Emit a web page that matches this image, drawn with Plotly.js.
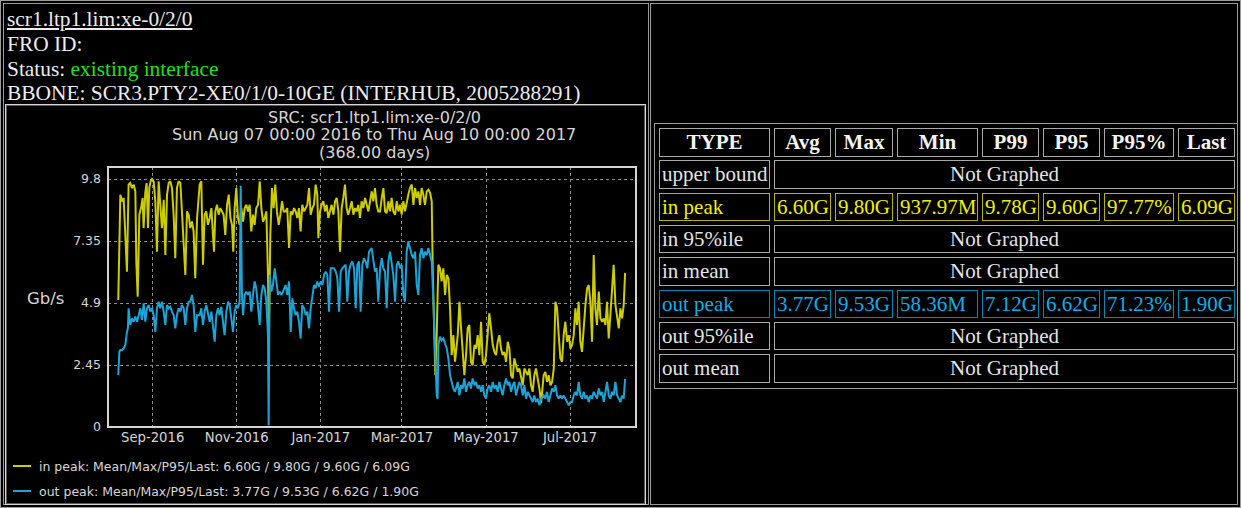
<!DOCTYPE html>
<html>
<head>
<meta charset="utf-8">
<script src="https://cdn.plot.ly/plotly-3.0.1.min.js"></script>
<style>
  html, body { margin:0; padding:0; background:#000; }
  body { width:1241px; height:508px; position:relative; overflow:hidden; }
  .box { position:absolute; box-sizing:border-box; }
  .hdr { position:absolute; left:7px; font-family:'Liberation Serif','Times New Roman',serif; font-size:21.4px; line-height:25px; color:#ececec; white-space:nowrap; }
  .cell { position:absolute; box-sizing:border-box; border:1px solid #a8a8a8; font-family:'Liberation Serif','Times New Roman',serif; font-size:21px; color:#e4e4e4; white-space:nowrap; overflow:hidden; padding-left:2px; }
  #chart { position:absolute; left:0; top:0; width:650px; height:508px; }
</style>
</head>
<body>
<div class="box" style="left:0;top:0;width:1241px;height:508px;border:1px solid #9a9a9a;"></div>
<div class="box" style="left:3px;top:3px;width:646px;height:502px;border:1px solid #9a9a9a;"></div>
<div class="box" style="left:650px;top:3px;width:588px;height:502px;border:1px solid #9a9a9a;"></div>
<div class="box" style="left:5px;top:104px;width:641px;height:401px;border:1px solid #d6d6d6;box-shadow:inset 0 0 0 1px #5a5a5a;"></div>

<div class="hdr" style="top:7px;"><span style="text-decoration:underline;">scr1.ltp1.lim:xe-0/2/0</span></div>
<div class="hdr" style="top:32px;">FRO ID:</div>
<div class="hdr" style="top:57px;">Status: <span style="color:#1ee01e;">existing interface</span></div>
<div class="hdr" style="top:81px;">BBONE: SCR3.PTY2-XE0/1/0-10GE (INTERHUB, 2005288291)</div>

<div class="box" style="left:654px;top:123px;width:584px;height:266px;border:1px solid #9a9a9a;"></div>
<div id="tbl"></div>
<div id="chart"></div>

<script>
// ---------------- DATA ----------------
const startDate = '2016-08-07';
const monthTickDates = ['2016-09-01','2016-11-01','2017-01-01','2017-03-01','2017-05-01','2017-07-01'];
const monthTickLabels = ['Sep-2016','Nov-2016','Jan-2017','Mar-2017','May-2017','Jul-2017'];
const yTickValues = [0, 2.45, 4.9, 7.35, 9.8];
const yTickLabels = ['0','2.45','4.9','7.35','9.8'];

// day offsets from startDate, values in Gb/s
const inDays = [0,1.5,2.7,3.9,5.1,6.3,7.5,8.7,10.0,11.2,12.4,13.1,14.1,15.3,16.5,17.7,18.4,19.6,20.6,21.6,22.5,23.5,24.5,25.7,26.9,28.1,29.3,30.5,31.7,33.0,34.2,35.4,36.6,37.8,39.0,40.2,41.4,42.6,43.8,45.1,46.3,47.5,48.7,49.9,51.1,52.3,53.5,54.7,55.9,57.2,
59.1,60.3,61.5,62.7,63.9,65.1,66.4,67.6,68.8,69.5,70.5,71.7,72.9,74.1,75.3,76.5,77.7,79.0,80.2,81.4,82.6,83.5,84.5,85.7,86.9,88.1,89.4,90.6,91.8,93.0,94.2,95.4,96.6,97.8,99.0,100.2,101.5,102.7,103.9,105.1,106.3,107.5,108.7,109.4,110.4,111.6,112.8,114.0,115.2,116.5,117.7,118.9,120.1,
121.5,122.7,124.0,125.2,126.4,127.6,128.8,130.0,131.2,132.4,133.6,134.9,136.1,137.3,138.5,139.7,140.9,142.1,143.3,144.5,145.3,146.5,147.7,148.9,150.1,151.3,152.5,153.7,154.9,156.2,157.4,158.6,159.8,161.0,162.2,163.4,164.6,165.8,167.0,168.3,169.5,170.7,171.9,173.1,174.3,175.5,176.7,177.9,179.2,180.4,181.6,
184.0,185.2,186.4,187.6,188.8,190.1,191.3,192.5,193.7,194.9,196.1,197.3,198.5,199.7,201.0,202.2,203.4,204.6,205.8,207.0,208.2,209.4,210.6,211.8,213.1,214.3,215.5,216.7,217.9,219.1,220.3,221.5,222.7,224.0,225.2,226.4,227.6,228.3,229.3,230.2,231.2,232.4,233.6,234.8,236.0,237.3,238.5,239.7,240.9,242.1,243.3,244.5,
246.5,247.7,248.9,250.1,251.3,252.5,253.7,254.9,256.1,257.3,258.6,259.8,261.0,262.2,263.4,264.6,265.8,267.0,268.2,269.4,270.7,271.9,273.1,274.3,275.5,276.7,277.9,279.1,280.3,281.6,282.8,284.0,285.2,286.4,287.6,288.8,290.0,291.2,292.4,293.7,294.9,296.1,297.3,298.5,299.7,300.9,302.1,303.3,304.6,305.8,307.0,
308.9,310.1,311.3,312.5,313.8,315.0,316.2,317.4,318.6,319.8,321.0,322.2,323.4,324.6,325.9,327.1,328.3,329.5,330.7,331.9,333.1,334.3,335.5,336.7,338.0,339.2,340.4,341.6,342.8,344.0,345.2,346.4,347.6,348.9,350.1,351.3,352.5,353.7,354.9,356.1,357.3,358.5,359.7,361.0,362.2,363.4,364.6,365.8,367.0,368.0];

const inPeak = [5.02,9.18,8.92,9.05,7.59,6.14,9.58,9.64,9.44,9.58,9.31,6.54,5.15,8.39,8.65,9.05,7.86,9.25,9.64,7.86,9.44,9.71,9.80,9.71,8.92,6.93,9.71,8.65,7.86,8.98,6.80,9.18,9.64,9.71,9.44,8.39,6.67,9.44,9.71,9.64,8.26,6.93,6.01,8.52,8.39,7.86,8.12,7.73,5.88,8.26,
9.58,9.71,6.41,8.39,8.52,7.99,8.26,8.65,7.59,6.93,8.52,8.78,8.39,8.65,8.52,8.39,7.59,8.78,9.18,8.26,7.99,6.93,8.65,9.44,8.26,7.99,8.65,8.12,8.65,8.78,8.52,8.78,7.73,8.39,7.99,8.65,8.78,9.71,8.65,8.12,8.26,8.52,6.01,3.63,7.59,9.44,8.65,9.58,8.52,7.99,8.39,8.92,8.52,
8.52,8.65,7.07,8.52,8.39,8.65,8.52,8.26,8.65,7.73,8.78,8.52,8.65,8.78,9.44,8.39,8.65,8.78,9.58,9.18,7.46,8.52,8.78,8.92,8.52,8.78,8.26,8.52,8.78,8.39,8.92,9.05,8.52,6.93,8.65,9.05,9.58,8.65,8.39,8.65,8.92,8.39,8.65,8.52,8.78,8.26,8.92,8.65,9.05,8.78,8.52,
9.31,8.92,9.44,8.78,8.52,8.52,9.05,9.44,8.52,8.45,8.92,8.52,9.05,8.52,8.39,8.92,8.52,8.78,8.39,8.92,8.52,8.92,9.18,9.44,9.58,8.78,9.44,9.05,9.31,8.78,9.44,9.18,8.78,9.31,9.38,9.25,8.92,6.27,3.63,2.05,3.63,6.41,6.27,5.75,6.27,5.22,6.01,5.88,4.69,2.84,3.63,2.58,
3.63,4.95,3.90,2.84,2.05,2.84,3.90,4.03,2.58,2.44,3.24,3.10,3.63,2.84,4.16,2.58,2.44,2.84,3.90,4.49,3.90,3.24,2.97,2.84,3.37,3.63,3.10,2.84,2.97,2.58,3.37,3.10,2.05,1.92,2.71,2.44,2.18,2.31,2.05,1.65,2.31,2.18,2.05,2.31,1.65,1.39,2.05,2.31,1.92,1.52,0.94,
2.05,2.18,1.78,2.05,1.65,1.78,2.31,4.95,4.69,3.63,2.71,2.58,3.63,4.16,3.37,3.63,3.10,3.24,3.63,4.69,4.03,4.95,3.37,2.97,4.03,4.82,5.48,5.61,4.95,3.37,6.80,4.69,4.03,5.35,4.29,4.16,4.29,4.03,4.95,3.50,4.42,5.61,6.41,4.82,4.42,3.90,4.69,4.29,4.82,6.09];

const outDays = [0,0.8,1.5,2.7,3.9,5.1,6.3,7.0,7.5,8.7,10.0,11.2,12.4,13.6,14.8,16.0,17.2,18.4,19.6,20.8,22.1,23.3,24.5,25.7,26.9,28.1,29.3,30.5,31.7,33.0,34.2,35.4,36.6,37.8,39.0,40.2,41.4,42.6,43.8,45.1,46.3,47.5,48.7,49.9,51.1,52.3,53.5,54.7,55.9,57.2,
59.1,60.3,61.5,62.7,63.9,65.1,66.4,67.6,68.8,70.0,71.2,72.4,73.6,74.8,76.0,77.2,78.5,79.7,80.9,82.1,83.3,84.5,85.7,86.9,88.1,88.9,89.8,90.6,91.8,93.0,94.2,95.4,96.6,97.8,99.0,100.2,101.5,102.7,103.9,105.1,106.3,107.5,108.7,109.2,109.9,111.1,112.3,113.6,114.8,116.0,117.2,118.4,119.6,
121.5,122.7,124.0,125.2,126.4,127.6,128.8,130.0,131.2,132.4,133.6,134.9,136.1,137.3,138.5,139.7,140.9,142.1,143.3,144.5,145.7,147.0,148.2,149.4,150.6,151.8,153.0,154.2,155.4,156.6,157.9,159.1,160.3,161.5,162.7,163.9,165.1,166.3,167.5,168.7,170.0,171.2,172.4,173.6,174.8,176.0,177.2,178.4,179.6,180.8,182.1,
184.0,185.2,186.4,187.6,188.8,190.1,191.3,192.5,193.7,194.9,196.1,197.3,198.5,199.7,201.0,202.2,203.4,204.6,205.8,207.0,208.2,209.4,210.6,211.8,213.1,214.3,215.5,216.7,217.9,219.1,220.3,221.5,222.7,224.0,225.2,226.4,227.6,228.8,230.0,231.2,231.9,232.4,233.6,234.8,236.0,237.3,238.5,239.7,240.9,242.1,243.3,244.5,
246.5,247.7,248.9,250.1,251.3,252.5,253.7,254.9,256.1,257.3,258.6,259.8,261.0,262.2,263.4,264.6,265.8,267.0,268.2,269.4,270.7,271.9,273.1,274.3,275.5,276.7,277.9,279.1,280.3,281.6,282.8,284.0,285.2,286.4,287.6,288.8,290.0,291.2,292.4,293.7,294.9,296.1,297.3,298.5,299.7,300.9,302.1,303.3,304.6,305.8,307.0,
308.9,310.1,311.3,312.5,313.8,315.0,316.2,317.4,318.6,319.8,321.0,322.2,323.4,324.6,325.9,327.1,328.3,329.5,330.7,331.9,333.1,334.3,335.5,336.7,338.0,339.2,340.4,341.6,342.8,344.0,345.2,346.4,347.6,348.9,350.1,351.3,352.5,353.7,354.9,356.1,357.3,358.5,359.7,361.0,362.2,363.4,364.6,365.8,367.0,368.0];

const outPeak = [2.05,2.97,3.04,3.04,3.10,3.24,3.76,3.90,4.69,4.03,4.29,4.16,4.36,4.16,4.42,4.69,4.23,4.89,4.16,4.69,4.82,4.56,4.69,4.42,3.76,4.69,4.95,4.69,4.95,4.56,4.03,4.82,4.69,4.75,4.56,4.42,3.90,4.42,4.69,4.56,4.82,4.69,4.03,4.69,4.95,4.95,5.22,4.82,3.76,4.42,
4.42,4.69,4.03,4.56,4.82,4.42,4.16,4.56,3.90,3.37,4.42,4.69,4.42,4.75,4.16,3.63,4.56,4.95,4.82,4.29,3.76,4.56,4.82,4.69,4.95,9.53,5.22,4.42,5.22,5.35,5.22,5.35,4.56,5.22,5.75,5.48,4.69,4.03,5.22,5.61,5.48,4.95,3.63,0.06,6.01,5.35,5.61,6.27,5.75,5.22,5.35,5.22,5.35,
5.61,5.22,5.75,3.76,5.09,4.69,4.42,4.56,4.16,3.50,4.82,4.69,4.42,4.56,3.90,4.69,5.09,5.61,5.48,5.75,5.55,5.75,5.61,6.01,6.14,6.01,4.56,6.27,6.27,6.27,6.14,5.88,4.56,6.14,6.27,6.34,6.41,4.95,6.14,6.41,6.54,6.27,4.69,6.41,6.54,4.56,6.41,6.67,6.54,6.27,6.93,
7.07,6.54,6.14,6.27,4.95,6.27,6.67,6.27,6.14,4.69,6.54,6.93,6.54,6.01,4.95,6.41,6.54,6.27,6.41,5.22,4.95,6.93,7.33,7.07,6.80,6.67,6.93,5.61,5.22,6.80,7.07,6.67,6.93,6.80,7.07,6.80,6.54,4.95,2.84,1.25,1.12,3.24,3.57,3.43,3.50,3.24,3.10,2.71,2.05,1.78,1.52,1.39,
1.78,1.25,1.65,1.52,1.92,1.39,1.65,1.78,1.52,1.92,1.65,1.78,1.52,1.65,1.39,1.65,1.25,1.12,1.52,1.65,1.39,1.78,1.52,1.65,1.39,1.78,1.52,1.25,1.65,1.92,1.65,1.78,1.39,1.65,1.78,1.25,1.52,1.78,1.65,1.25,1.65,1.12,1.39,1.25,1.12,0.99,1.25,0.99,1.12,0.86,1.12,
1.25,1.12,1.39,0.99,1.25,1.52,1.39,1.65,1.25,1.12,1.25,1.12,1.25,1.12,0.99,0.86,0.99,0.99,1.25,1.39,1.25,1.78,1.25,1.12,1.39,1.12,1.25,0.99,1.25,1.12,1.39,1.25,1.12,1.52,1.25,1.39,0.99,1.39,1.78,1.25,1.12,1.39,1.25,1.78,1.25,1.12,0.99,1.25,1.12,1.90];

const chartTitleLines = ['SRC: scr1.ltp1.lim:xe-0/2/0', 'Sun Aug 07 00:00 2016 to Thu Aug 10 00:00 2017', '(368.00 days)'];
const legendLabels = ['in peak: Mean/Max/P95/Last: 6.60G / 9.80G / 9.60G / 6.09G',
                      'out peak: Mean/Max/P95/Last: 3.77G / 9.53G / 6.62G / 1.90G'];

// table data
const tableHeaders = ['TYPE','Avg','Max','Min','P99','P95','P95%','Last'];
const rowNames = ['upper bound','in peak','in 95%ile','in mean','out peak','out 95%ile','out mean'];
const inPeakStats = ['6.60G','9.80G','937.97M','9.78G','9.60G','97.77%','6.09G'];
const outPeakStats = ['3.77G','9.53G','58.36M','7.12G','6.62G','71.23%','1.90G'];

// ---------------- STYLE ----------------
const IN_COLOR = '#cccc00';
const OUT_COLOR = '#1ca4d6';

// ---------------- TABLE ----------------
(function buildTable(){
  const colX = [659, 774, 835, 897, 982, 1043, 1104, 1178];
  const colW = [111, 57, 58, 81, 57, 57, 70, 57];
  const rowY0 = 128, rowPitch = 32.3, rowH = 28.5;
  const tbl = document.getElementById('tbl');
  function cell(x, y, w, text, opts) {
    const d = document.createElement('div');
    d.className = 'cell';
    d.style.left = x + 'px'; d.style.top = y + 'px';
    d.style.width = w + 'px'; d.style.height = rowH + 'px';
    d.style.lineHeight = (rowH - 2) + 'px';
    if (opts.center) { d.style.textAlign = 'center'; d.style.paddingLeft = '0'; }
    if (opts.bold) d.style.fontWeight = 'bold';
    if (opts.color) d.style.color = opts.color;
    if (opts.border) d.style.borderColor = opts.border;
    d.textContent = text;
    tbl.appendChild(d);
  }
  tableHeaders.forEach((h, i) => cell(colX[i], rowY0, colW[i], h, {center:true, bold:true, color:'#f4f4f4'}));
  rowNames.forEach((name, r) => {
    const y = rowY0 + (r + 1) * rowPitch;
    let stats = null, color = null, border = null;
    if (name === 'in peak') { stats = inPeakStats; color = '#f0f000'; border = '#b4b400'; }
    if (name === 'out peak') { stats = outPeakStats; color = '#10aee8'; border = '#0a86b4'; }
    cell(colX[0], y, colW[0], name, {color, border});
    if (stats) {
      stats.forEach((s, i) => cell(colX[i+1], y, colW[i+1], s, {color, border}));
    } else {
      const x0 = colX[1], x1 = colX[7] + colW[7];
      cell(x0, y, x1 - x0, 'Not Graphed', {center:true});
    }
  });
})();

// ---------------- CHART ----------------
const base = Date.UTC(2016, 7, 7);
const toMs = d => base + d * 86400000;

const traces = [
  { x: inDays.map(toMs), y: inPeak, type:'scatter', mode:'lines', name:'in peak',
    line:{color:IN_COLOR, width:2}, hoverinfo:'skip' },
  { x: outDays.map(toMs), y: outPeak, type:'scatter', mode:'lines', name:'out peak',
    line:{color:OUT_COLOR, width:2}, hoverinfo:'skip' }
];

const FONT = 'DejaVu Sans, Verdana, sans-serif';
const TXT = '#d6d6d6';

const annotations = [];
chartTitleLines.forEach((t, i) => {
  annotations.push({ text: t, xref:'paper', yref:'paper', x:0.504, y:1, yshift:[50,33,15][i],
    xanchor:'center', yanchor:'middle', showarrow:false, font:{family:FONT, size:16, color:TXT} });
});
annotations.push({ text:'Gb/s', xref:'paper', yref:'paper', x:0, y:0, xshift:-63, yshift:129,
  xanchor:'center', yanchor:'middle', showarrow:false, font:{family:FONT, size:16.5, color:TXT} });
legendLabels.forEach((t, i) => {
  annotations.push({ text: t, xref:'paper', yref:'paper', x:0, y:0, xshift:-71, yshift:[-39,-64][i],
    xanchor:'left', yanchor:'middle', showarrow:false, font:{family:FONT, size:12.5, color:TXT} });
});

const shapes = [
  { type:'rect', xref:'paper', yref:'paper', x0:0, x1:1, y0:0, y1:1, layer:'above',
    line:{color:'#d4d4d4', width:2} }
];
[IN_COLOR, OUT_COLOR].forEach((c, i) => {
  shapes.push({ type:'line', xref:'paper', yref:'paper', xsizemode:'pixel', ysizemode:'pixel',
    xanchor:0, yanchor:0, x0:-95, x1:-77, y0:[-39,-64][i], y1:[-39,-64][i],
    line:{color:c, width:2} });
});

const layout = {
  width:650, height:508,
  margin:{l:108, r:14, t:167, b:81, pad:0},
  paper_bgcolor:'rgba(0,0,0,0)', plot_bgcolor:'#000',
  showlegend:false,
  font:{family:FONT, color:TXT},
  xaxis:{
    type:'date', range:['2016-07-30 13:00', '2017-08-17 22:00'],
    tickmode:'array', tickvals:monthTickDates, ticktext:monthTickLabels,
    showgrid:true, gridcolor:'#8c8c8c', griddash:'dot', gridwidth:1,
    zeroline:false, showline:false, ticks:'', ticklabelstandoff:1,
    tickfont:{family:FONT, size:13.2, color:TXT}, fixedrange:true
  },
  yaxis:{
    range:[0, 10.274], tickmode:'array', tickvals:yTickValues, ticktext:yTickLabels,
    showgrid:true, gridcolor:'#8c8c8c', griddash:'dot', gridwidth:1,
    zeroline:false, showline:false, ticks:'', ticklabelstandoff:6,
    tickfont:{family:FONT, size:12.5, color:TXT}, fixedrange:true
  },
  annotations, shapes
};

Plotly.newPlot('chart', traces, layout, {staticPlot:true, displayModeBar:false});
</script>
</body>
</html>
